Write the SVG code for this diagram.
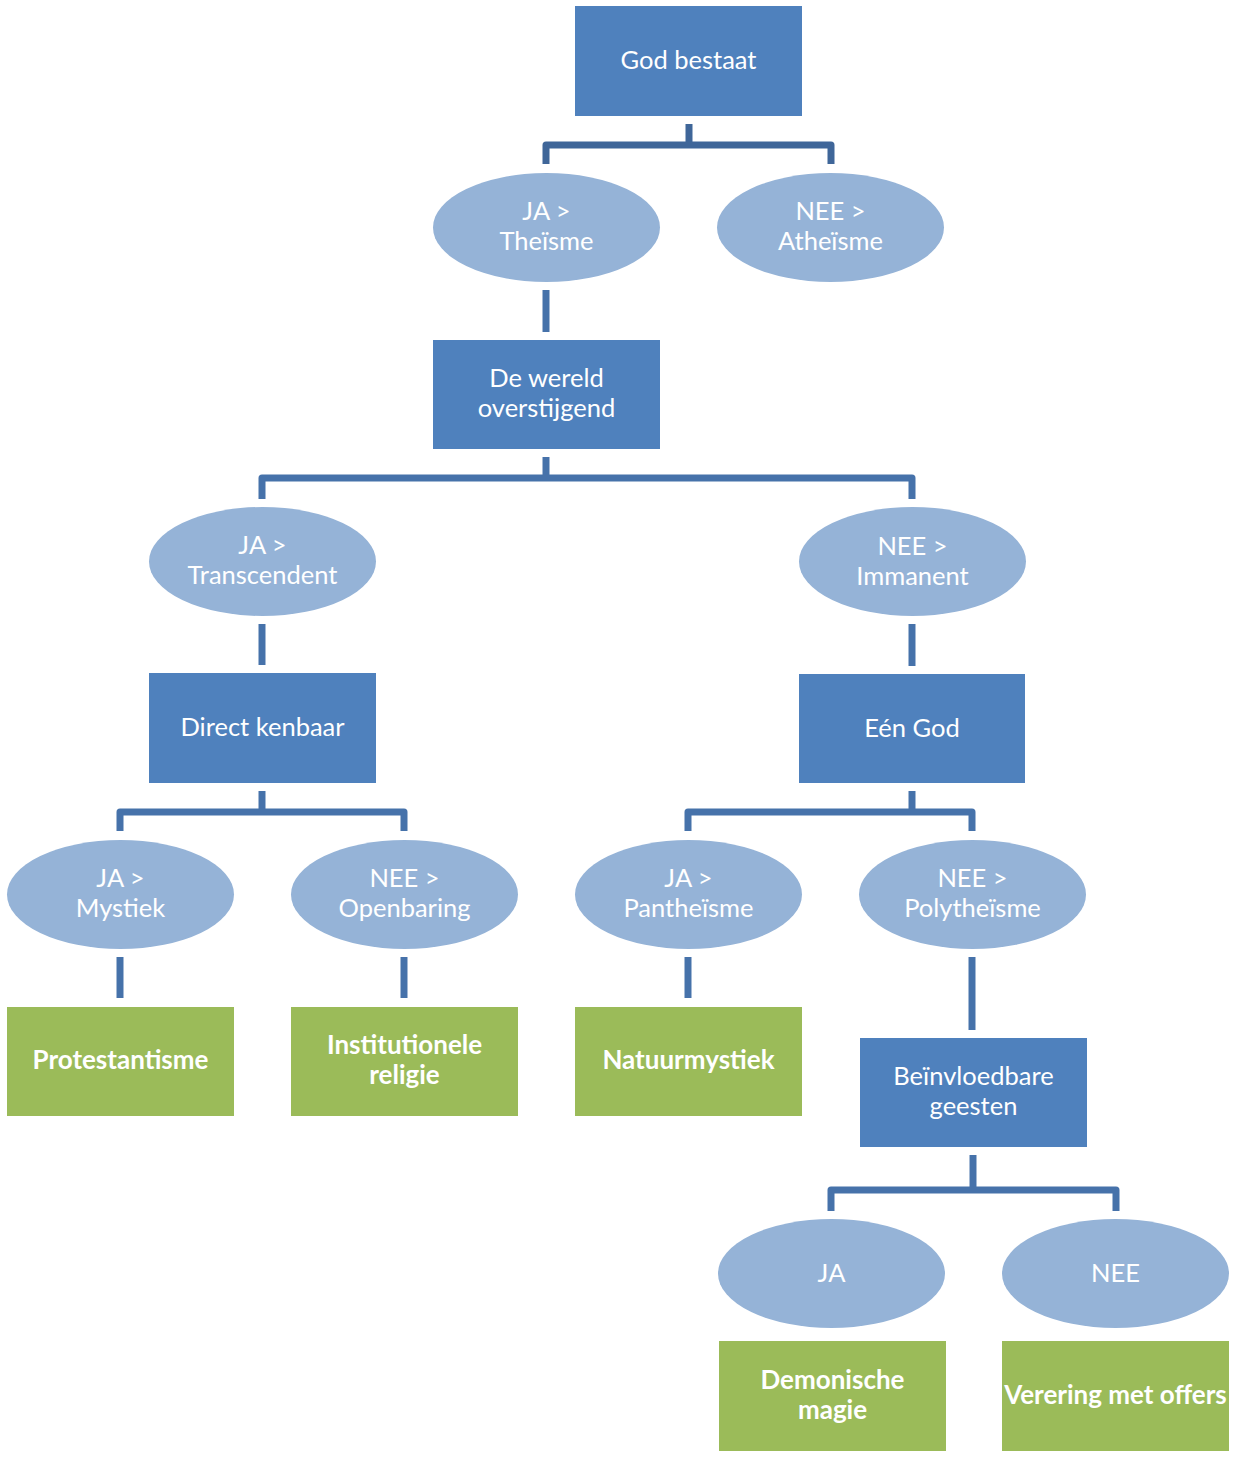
<svg xmlns="http://www.w3.org/2000/svg" width="1240" height="1458" viewBox="0 0 1240 1458">
<style>
.box{fill:#4F81BD}
.ell{fill:#95B3D7}
.leaf{fill:#9BBB59}
.t{font-family:Lato,"Liberation Sans",sans-serif;font-size:25.5px;fill:#FFFFFF;text-anchor:middle}
.b{font-weight:bold;font-size:26px}
.c{fill:none;stroke:#4672AA;stroke-width:7;stroke-linejoin:round}
.c0{stroke:#3F6699}
</style>
<rect width="1240" height="1458" fill="#FFFFFF"/>
<g id="connectors">
<path class="c c0" d="M689,124V148"/>
<path class="c c0" d="M546,164V145H831V164"/>
<path class="c" d="M546,290V332"/>
<path class="c" d="M546,457V481"/>
<path class="c" d="M262,499V478H912V499"/>
<path class="c" d="M262,624V665"/>
<path class="c" d="M912,624V666"/>
<path class="c" d="M262,791V815"/>
<path class="c" d="M120,831V812H404V831"/>
<path class="c" d="M912,791V815"/>
<path class="c" d="M688,831V812H972V831"/>
<path class="c" d="M120,957V998"/>
<path class="c" d="M404,957V998"/>
<path class="c" d="M688,957V998"/>
<path class="c" d="M972,957V1030"/>
<path class="c" d="M973,1155V1193"/>
<path class="c" d="M831,1211V1190H1116V1211"/>
</g>
<g id="god-bestaat"><rect class="box" x="575" y="6" width="227" height="110"/><text class="t" x="688.5" y="69">God bestaat</text></g>
<g id="theisme"><ellipse class="ell" cx="546.5" cy="227.5" rx="113.5" ry="54.5"/><text class="t" x="546.5" y="220">JA &gt;</text><text class="t" x="546.5" y="250">Theïsme</text></g>
<g id="atheisme"><ellipse class="ell" cx="830.5" cy="227.5" rx="113.5" ry="54.5"/><text class="t" x="830.5" y="220">NEE &gt;</text><text class="t" x="830.5" y="250">Atheïsme</text></g>
<g id="wereld"><rect class="box" x="433" y="340" width="227" height="109"/><text class="t" x="546.5" y="387">De wereld</text><text class="t" x="546.5" y="417">overstijgend</text></g>
<g id="transcendent"><ellipse class="ell" cx="262.5" cy="561.5" rx="113.5" ry="54.5"/><text class="t" x="262.5" y="554">JA &gt;</text><text class="t" x="262.5" y="584">Transcendent</text></g>
<g id="immanent"><ellipse class="ell" cx="912.5" cy="561.5" rx="113.5" ry="54.5"/><text class="t" x="912.5" y="555">NEE &gt;</text><text class="t" x="912.5" y="585">Immanent</text></g>
<g id="direct-kenbaar"><rect class="box" x="149" y="673" width="227" height="110"/><text class="t" x="262.5" y="736">Direct kenbaar</text></g>
<g id="een-god"><rect class="box" x="799" y="674" width="226" height="109"/><text class="t" x="912" y="737">Eén God</text></g>
<g id="mystiek"><ellipse class="ell" cx="120.5" cy="894.5" rx="113.5" ry="54.5"/><text class="t" x="120.5" y="887">JA &gt;</text><text class="t" x="120.5" y="917">Mystiek</text></g>
<g id="openbaring"><ellipse class="ell" cx="404.5" cy="894.5" rx="113.5" ry="54.5"/><text class="t" x="404.5" y="887">NEE &gt;</text><text class="t" x="404.5" y="917">Openbaring</text></g>
<g id="pantheisme"><ellipse class="ell" cx="688.5" cy="894.5" rx="113.5" ry="54.5"/><text class="t" x="688.5" y="887">JA &gt;</text><text class="t" x="688.5" y="917">Pantheïsme</text></g>
<g id="polytheisme"><ellipse class="ell" cx="972.5" cy="894.5" rx="113.5" ry="54.5"/><text class="t" x="972.5" y="887">NEE &gt;</text><text class="t" x="972.5" y="917">Polytheïsme</text></g>
<g id="protestantisme"><rect class="leaf" x="7" y="1007" width="227" height="109"/><text class="t b" x="120.5" y="1069">Protestantisme</text></g>
<g id="institutionele"><rect class="leaf" x="291" y="1007" width="227" height="109"/><text class="t b" x="404.5" y="1054">Institutionele</text><text class="t b" x="404.5" y="1084">religie</text></g>
<g id="natuurmystiek"><rect class="leaf" x="575" y="1007" width="227" height="109"/><text class="t b" x="688.5" y="1069">Natuurmystiek</text></g>
<g id="beinvloedbare"><rect class="box" x="860" y="1038" width="227" height="109"/><text class="t" x="973.5" y="1085">Beïnvloedbare</text><text class="t" x="973.5" y="1115">geesten</text></g>
<g id="ja"><ellipse class="ell" cx="831.5" cy="1273.5" rx="113.5" ry="54.5"/><text class="t" x="831.5" y="1282">JA</text></g>
<g id="nee"><ellipse class="ell" cx="1115.5" cy="1273.5" rx="113.5" ry="54.5"/><text class="t" x="1115.5" y="1282">NEE</text></g>
<g id="demonische-magie"><rect class="leaf" x="719" y="1341" width="227" height="110"/><text class="t b" x="832.5" y="1389">Demonische</text><text class="t b" x="832.5" y="1419">magie</text></g>
<g id="verering"><rect class="leaf" x="1002" y="1341" width="227" height="110"/><text class="t b" x="1115.5" y="1404">Verering met offers</text></g>
</svg>
